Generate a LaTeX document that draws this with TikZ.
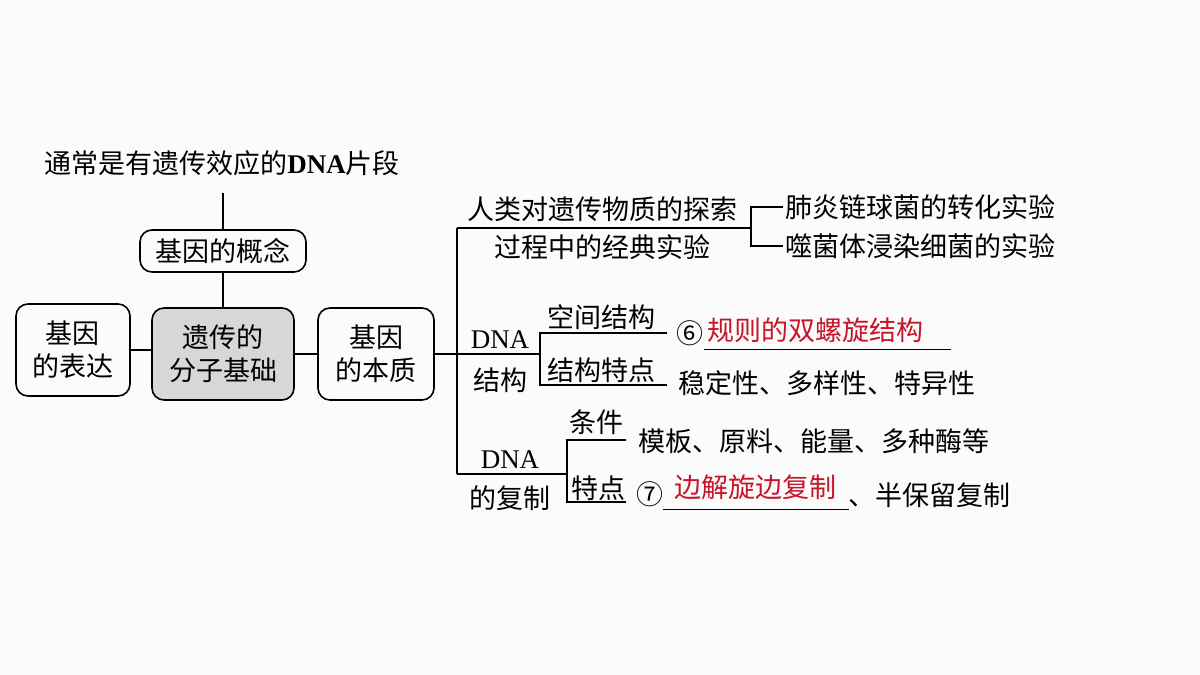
\documentclass[tikz,border=0pt]{standalone}
\usepackage{fontspec}
\setmainfont{Liberation Serif}
\newfontfamily\cjk{Noto Sans CJK SC}
\definecolor{answer}{RGB}{200,20,40}
\definecolor{boxgray}{RGB}{215,215,215}
\tikzset{
  box/.style={draw,rounded corners=6pt,thick,align=center,inner sep=0pt},
  txt/.style={font=\cjk\fontsize{13.5}{16.5}\selectfont,align=center,inner sep=1pt},
  ans/.style={txt,text=answer},
  line/.style={thick}
}
\begin{document}
\begin{tikzpicture}[x=0.5pt,y=-0.5pt]
\useasboundingbox[fill=white!97!gray] (0,0) rectangle (1200,675);
% left part
\node[txt,anchor=west] (def) at (42,163) {通常是有遗传效应的{\rmfamily\bfseries DNA}片段};
\node[box,txt,minimum width=83pt,minimum height=21pt] (concept) at (223,251) {基因的概念};
\node[box,txt,fill=boxgray,minimum width=71pt,minimum height=46pt] (core) at (223,354) {遗传的\\分子基础};
\node[box,txt,minimum width=57pt,minimum height=46pt] (expr) at (73,350) {基因\\的表达};
\node[box,txt,minimum width=58pt,minimum height=46pt] (nature) at (376,354) {基因\\的本质};
\coordinate (deftop) at (223,193);
\draw[line] (deftop) -- (concept.north);
\draw[line] (concept.south) -- (core.north);
\draw[line] (expr.east) -- (expr.east -| core.west);
\draw[line] (core.east) -- (nature.west);
% trunk
\coordinate (t1) at (457,228);
\coordinate (t2) at (457,354);
\coordinate (t3) at (457,474);
\draw[line] (nature.east) -- (t2);
\draw[line] (t1) -- (t3);
% experiments
\coordinate (e1) at (751,228);
\draw[line] (t1) -- (e1);
\node[txt] (exp1) at (602,209) {人类对遗传物质的探索};
\node[txt] (exp2) at (602,247) {过程中的经典实验};
\node[txt,anchor=west] (pn) at (783,207) {肺炎链球菌的转化实验};
\node[txt,anchor=west] (ph) at (783,246) {噬菌体浸染细菌的实验};
\draw[line] (pn.west) -| (e1) |- (ph.west);
% DNA structure
\coordinate (s1) at (540,354);
\draw[line] (t2) -- (s1);
\node[txt] (sd) at (500,340) {\rmfamily DNA};
\node[txt] (sj) at (500,380) {结构};
\node[txt] (kj) at (601,317) {空间结构};
\node[txt] (tz) at (601,370) {结构特点};
\coordinate (k2) at (667,333);
\coordinate (z2) at (667,385);
\draw[line] (k2) -| (s1) |- (z2);
\node[txt] (n6) at (690,333) {⑥};
\node[ans,anchor=west] (a6) at (705,330) {规则的双螺旋结构};
\coordinate (u6a) at (704,349);
\coordinate (u6b) at (951,349);
\draw (u6a) -- (u6b);
\node[txt,anchor=west] (wd) at (676,383) {稳定性、多样性、特异性};
% replication
\coordinate (r1) at (567,474);
\draw[line] (t3) -- (r1);
\node[txt] (rd) at (510,460) {\rmfamily DNA};
\node[txt] (rf) at (510,498) {的复制};
\node[txt] (tj) at (596,422) {条件};
\node[txt] (td) at (598,488) {特点};
\coordinate (c2) at (626,440);
\coordinate (d2) at (626,502);
\draw[line] (c2) -| (r1) |- (d2);
\node[txt,anchor=west] (cond) at (636,441) {模板、原料、能量、多种酶等};
\node[txt] (n7) at (650,494) {⑦};
\node[ans,anchor=west] (a7) at (672,487) {边解旋边复制};
\coordinate (u7a) at (663,509);
\coordinate (u7b) at (849,509);
\draw (u7a) -- (u7b);
\node[txt,anchor=west] (bb) at (846,495) {、半保留复制};
\end{tikzpicture}
\end{document}
